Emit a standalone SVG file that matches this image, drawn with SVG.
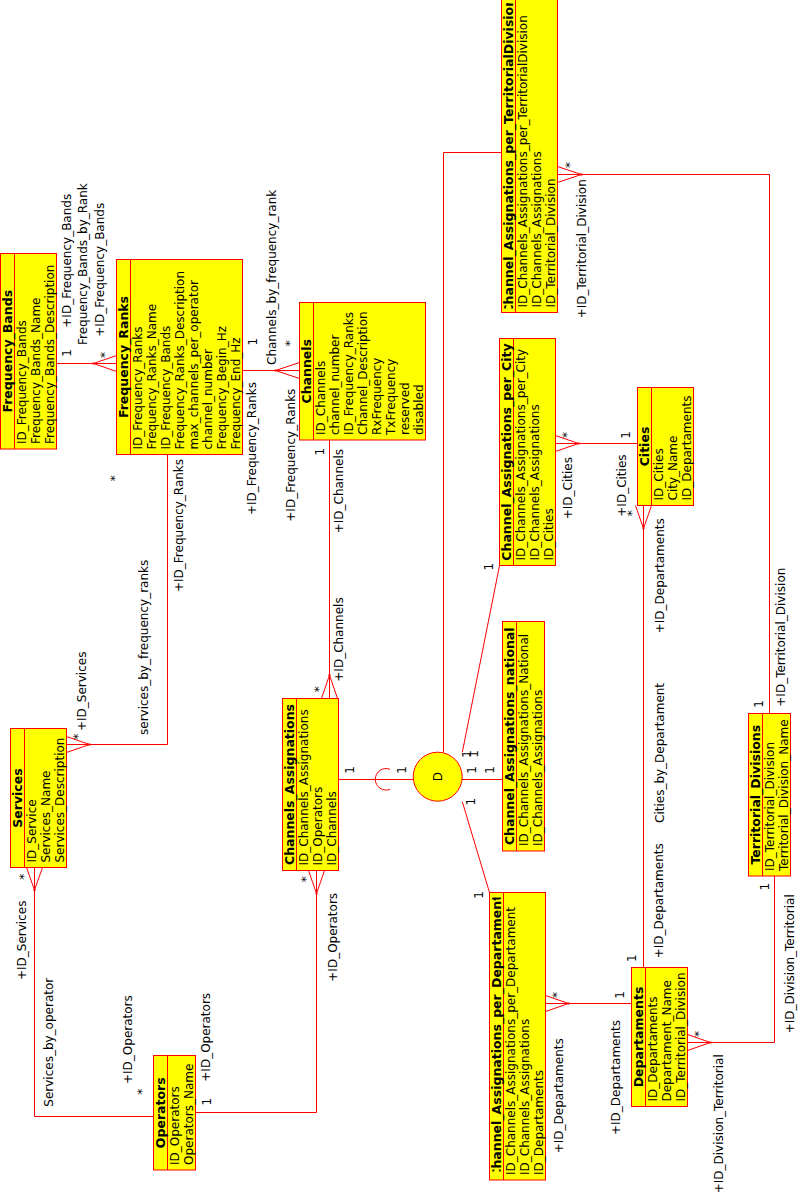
<svg xmlns="http://www.w3.org/2000/svg" width="798" height="1200" viewBox="0 0 798 1200">
<style>
.box{fill:#ffff00;stroke:#ff0000;stroke-width:1}
.sep{stroke:#ff0000;stroke-width:1;fill:none}
.ln{stroke:#ff0000;stroke-width:1;fill:none}
.dot{fill:#ff0000}
text{font-family:"DejaVu Sans","Liberation Sans",sans-serif;font-size:12px;fill:#000}
.tt{font-weight:bold;font-size:12.5px;text-anchor:middle}
.c{text-anchor:middle}
</style>
<defs>
<clipPath id="clipCATD"><rect x="501" y="3" width="57" height="305.5"/></clipPath>
<clipPath id="clipCAD"><rect x="489" y="897.5" width="57" height="274"/></clipPath>
</defs>
<rect x="0" y="0" width="798" height="1200" fill="#ffffff"/>

<g id="connectors">
<path class="ln" d="M56.5,363.5H116.5M93.5,363.5L116.5,355.5M93.5,363.5L116.5,371.5"/>
<rect class="dot" x="92.5" y="362.5" width="2" height="2"/>
<path class="ln" d="M242.5,370.5H299.5M275.5,370.5L299.5,362.5M275.5,370.5L299.5,378.5"/>
<rect class="dot" x="274.5" y="369.5" width="2" height="2"/>
<path class="ln" d="M167.5,454.5V744.5H66.5M89.5,744.5L66.5,736.5M89.5,744.5L66.5,752.5"/>
<rect class="dot" x="88.5" y="743.5" width="2" height="2"/>
<path class="ln" d="M34.5,867.5V1116.5H153.5M34.5,890L26.5,867.5M34.5,890L42.5,867.5"/>
<rect class="dot" x="33.5" y="889" width="2" height="2"/>
<path class="ln" d="M195.5,1112.5H316.5V870.5M316.5,893.5L308.5,870.5M316.5,893.5L324.5,870.5"/>
<rect class="dot" x="315.5" y="892.5" width="2" height="2"/>
<path class="ln" d="M329.5,440V698.5M329.5,675L321.5,698.5M329.5,675L337.5,698.5"/>
<rect class="dot" x="328.5" y="674" width="2" height="2"/>
<path class="ln" d="M338.5,779.5H413.5M390,769.3A10.75,10.75 0 1 0 390,789.3"/>
<path class="ln" d="M443.5,752.5V152.5H501.5"/>
<path class="ln" d="M462.3,752.3L499.5,565.5M462.3,801.7L489.5,892.5M462.3,779.5H502.5"/>
<path class="ln" d="M555.5,443.5H637.5M578.5,443.5L555.5,435.5M578.5,443.5L555.5,451.5"/>
<rect class="dot" x="577.5" y="442.5" width="2" height="2"/>
<path class="ln" d="M643.5,505.5V967.5M643.5,528.5L635.5,505.5M643.5,528.5L651.5,505.5"/>
<rect class="dot" x="642.5" y="527.5" width="2" height="2"/>
<path class="ln" d="M545.5,1003.5H631.5M568.5,1003.5L545.5,995.5M568.5,1003.5L545.5,1011.5"/>
<rect class="dot" x="567.5" y="1002.5" width="2" height="2"/>
<path class="ln" d="M687.5,1042.5H774.5V876M710.5,1042.5L687.5,1034.5M710.5,1042.5L687.5,1050.5"/>
<rect class="dot" x="709.5" y="1041.5" width="2" height="2"/>
<path class="ln" d="M769.5,713.5V174.5H557.5M581.5,174.5L557.5,166.5M581.5,174.5L557.5,182.5"/>
<rect class="dot" x="580.5" y="173.5" width="2" height="2"/>

<text class="c" transform="translate(71,353) rotate(-90)">1</text>
<text transform="translate(71.3,327.7) rotate(-90)">+ID_Frequency_Bands</text>
<text transform="translate(87.3,345) rotate(-90)">Frequency_Bands_by_Rank</text>
<text transform="translate(104.3,336.7) rotate(-90)">+ID_Frequency_Bands</text>
<text class="c" transform="translate(108.7,355) rotate(-90)">*</text>

<text class="c" transform="translate(257,341.7) rotate(-90)">1</text>
<text transform="translate(276,365) rotate(-90)">Channels_by_frequency_rank</text>
<text class="c" transform="translate(293.7,343.3) rotate(-90)">*</text>
<text transform="translate(256,515) rotate(-90)">+ID_Frequency_Ranks</text>
<text transform="translate(295,521.7) rotate(-90)">+ID_Frequency_Ranks</text>

<text class="c" transform="translate(118.7,478.3) rotate(-90)">*</text>
<text transform="translate(182.6,592) rotate(-90)">+ID_Frequency_Ranks</text>
<text transform="translate(147.6,735) rotate(-90)">services_by_frequency_ranks</text>
<text transform="translate(86,731) rotate(-90)">+ID_Services</text>
<text class="c" transform="translate(82,736.7) rotate(-90)">*</text>

<text class="c" transform="translate(27.7,876.7) rotate(-90)">*</text>
<text transform="translate(26,980) rotate(-90)">+ID_Services</text>
<text transform="translate(53.3,1106.7) rotate(-90)">Services_by_operator</text>
<text transform="translate(132,1084) rotate(-90)">+ID_Operators</text>
<text class="c" transform="translate(146.3,1091.7) rotate(-90)">*</text>

<text class="c" transform="translate(211,1101.7) rotate(-90)">1</text>
<text transform="translate(210,1081.7) rotate(-90)">+ID_Operators</text>
<text transform="translate(336.6,981.7) rotate(-90)">+ID_Operators</text>
<text class="c" transform="translate(309.7,879.3) rotate(-90)">*</text>

<text class="c" transform="translate(323.6,451.7) rotate(-90)">1</text>
<text transform="translate(342.6,533.3) rotate(-90)">+ID_Channels</text>
<text transform="translate(342.6,681.7) rotate(-90)">+ID_Channels</text>
<text class="c" transform="translate(323,689.3) rotate(-90)">*</text>

<text class="c" transform="translate(354.3,770) rotate(-90)">1</text>
<text class="c" transform="translate(406,770) rotate(-90)">1</text>

<text class="c" transform="translate(471.3,754) rotate(-90)">1</text>
<text class="c" transform="translate(477.8,754) rotate(-90)">1</text>
<text class="c" transform="translate(476,770) rotate(-90)">1</text>
<text class="c" transform="translate(494.3,770) rotate(-90)">1</text>
<text class="c" transform="translate(475,801.7) rotate(-90)">1</text>
<text class="c" transform="translate(492.6,566.7) rotate(-90)">1</text>
<text class="c" transform="translate(483.3,895) rotate(-90)">1</text>

<text class="c" transform="translate(570.7,435) rotate(-90)">*</text>
<text transform="translate(572,519.3) rotate(-90)">+ID_Cities</text>
<text class="c" transform="translate(630,435) rotate(-90)">1</text>

<text transform="translate(626,516.7) rotate(-90)">+ID_Cities</text>
<text class="c" transform="translate(636.3,513.3) rotate(-90)">*</text>
<text transform="translate(664.3,633.3) rotate(-90)">+ID_Departaments</text>
<text transform="translate(664.3,823) rotate(-90)">Cities_by_Departament</text>
<text transform="translate(662.6,958.3) rotate(-90)">+ID_Departaments</text>
<text class="c" transform="translate(636,958.3) rotate(-90)">1</text>

<text class="c" transform="translate(561.3,995) rotate(-90)">*</text>
<text transform="translate(562.6,1153.3) rotate(-90)">+ID_Departaments</text>
<text class="c" transform="translate(624.3,995) rotate(-90)">1</text>
<text transform="translate(620,1135) rotate(-90)">+ID_Departaments</text>

<text class="c" transform="translate(703,1034) rotate(-90)">*</text>
<text transform="translate(722.6,1193.3) rotate(-90)">+ID_Division_Territorial</text>
<text transform="translate(794.3,1033.3) rotate(-90)">+ID_Division_Territorial</text>
<text class="c" transform="translate(769.3,886.7) rotate(-90)">1</text>

<text class="c" transform="translate(573.7,165) rotate(-90)">*</text>
<text transform="translate(586,318.3) rotate(-90)">+ID_Territorial_Division</text>
<text class="c" transform="translate(763.3,704) rotate(-90)">1</text>
<text transform="translate(785.3,706.7) rotate(-90)">+ID_Territorial_Division</text>
</g>

<g id="Frequency_Bands">
<rect class="box" x="0.5" y="253.5" width="56" height="195.5"/>
<line class="sep" x1="14.5" y1="253.5" x2="14.5" y2="449"/>
<text class="tt" transform="translate(11.5,351.25) rotate(-90)">Frequency_Bands</text>
<text transform="translate(25.5,444) rotate(-90)">ID_Frequency_Bands</text>
<text transform="translate(39.5,444) rotate(-90)">Frequency_Bands_Name</text>
<text transform="translate(53.5,444) rotate(-90)">Frequency_Bands_Description</text>
</g>

<g id="Frequency_Ranks">
<rect class="box" x="116.5" y="259.5" width="126" height="195"/>
<line class="sep" x1="130.5" y1="259.5" x2="130.5" y2="454.5"/>
<text class="tt" transform="translate(127.5,357) rotate(-90)">Frequency_Ranks</text>
<text transform="translate(141.5,449.5) rotate(-90)">ID_Frequency_Ranks</text>
<text transform="translate(155.5,449.5) rotate(-90)">Frequency_Ranks_Name</text>
<text transform="translate(169.5,449.5) rotate(-90)">ID_Frequency_Bands</text>
<text transform="translate(183.5,449.5) rotate(-90)">Frequency_Ranks_Description</text>
<text transform="translate(197.5,449.5) rotate(-90)">max_channels_per_operator</text>
<text transform="translate(211.5,449.5) rotate(-90)">channel_number</text>
<text transform="translate(225.5,449.5) rotate(-90)">Frequency_Begin_Hz</text>
<text transform="translate(239.5,449.5) rotate(-90)">Frequency_End_Hz</text>
</g>

<g id="Channels">
<rect class="box" x="299.5" y="302.5" width="126" height="137.5"/>
<line class="sep" x1="313.5" y1="302.5" x2="313.5" y2="440"/>
<text class="tt" transform="translate(310.5,371.25) rotate(-90)">Channels</text>
<text transform="translate(324.5,435) rotate(-90)">ID_Channels</text>
<text transform="translate(338.5,435) rotate(-90)">channel_number</text>
<text transform="translate(352.5,435) rotate(-90)">ID_Frequency_Ranks</text>
<text transform="translate(366.5,435) rotate(-90)">Channel_Description</text>
<text transform="translate(380.5,435) rotate(-90)">RxFrequency</text>
<text transform="translate(394.5,435) rotate(-90)">TxFrequency</text>
<text transform="translate(408.5,435) rotate(-90)">reserved</text>
<text transform="translate(422.5,435) rotate(-90)">disabled</text>
</g>

<g id="Services">
<rect class="box" x="10.5" y="728.5" width="56" height="139"/>
<line class="sep" x1="24.5" y1="728.5" x2="24.5" y2="867.5"/>
<text class="tt" transform="translate(21.5,798) rotate(-90)">Services</text>
<text transform="translate(35.5,862.5) rotate(-90)">ID_Service</text>
<text transform="translate(49.5,862.5) rotate(-90)">Services_Name</text>
<text transform="translate(63.5,862.5) rotate(-90)">Services_Description</text>
</g>

<g id="Channels_Assignations">
<rect class="box" x="282.5" y="698.5" width="56" height="172"/>
<line class="sep" x1="296.5" y1="698.5" x2="296.5" y2="870.5"/>
<text class="tt" transform="translate(293.5,784.5) rotate(-90)">Channels_Assignations</text>
<text transform="translate(307.5,865.5) rotate(-90)">ID_Channels_Assignations</text>
<text transform="translate(321.5,865.5) rotate(-90)">ID_Operators</text>
<text transform="translate(335.5,865.5) rotate(-90)">ID_Channels</text>
</g>

<g id="Operators">
<rect class="box" x="153.5" y="1055.5" width="42" height="114.5"/>
<line class="sep" x1="167.5" y1="1055.5" x2="167.5" y2="1170"/>
<text class="tt" transform="translate(164.5,1112.75) rotate(-90)">Operators</text>
<text transform="translate(178.5,1165) rotate(-90)">ID_Operators</text>
<text transform="translate(192.5,1165) rotate(-90)">Operators_Name</text>
</g>

<g id="Channel_Assignations_per_TerritorialDivision">
<rect class="box" x="501.5" y="-1" width="56" height="313.5"/>
<line class="sep" x1="515.5" y1="-1" x2="515.5" y2="312.5"/>
<g clip-path="url(#clipCATD)"><text class="tt" transform="translate(512.5,155.75) rotate(-90)">Channel_Assignations_per_TerritorialDivision</text></g>
<text transform="translate(526.5,307.5) rotate(-90)">ID_Channels_Assignations_per_TerritorialDivision</text>
<text transform="translate(540.5,307.5) rotate(-90)">ID_Channels_Assignations</text>
<text transform="translate(554.5,307.5) rotate(-90)">ID_Territorial_Division</text>
</g>

<g id="Channel_Assignations_per_City">
<rect class="box" x="499.5" y="338.5" width="56" height="227"/>
<line class="sep" x1="513.5" y1="338.5" x2="513.5" y2="565.5"/>
<text class="tt" transform="translate(510.5,452) rotate(-90)">Channel_Assignations_per_City</text>
<text transform="translate(524.5,560.5) rotate(-90)">ID_Channels_Assignations_per_City</text>
<text transform="translate(538.5,560.5) rotate(-90)">ID_Channels_Assignations</text>
<text transform="translate(552.5,560.5) rotate(-90)">ID_Cities</text>
</g>

<g id="Cities">
<rect class="box" x="637.5" y="387.5" width="56" height="118"/>
<line class="sep" x1="651.5" y1="387.5" x2="651.5" y2="505.5"/>
<text class="tt" transform="translate(648.5,446.5) rotate(-90)">Cities</text>
<text transform="translate(662.5,500.5) rotate(-90)">ID_Cities</text>
<text transform="translate(676.5,500.5) rotate(-90)">City_Name</text>
<text transform="translate(690.5,500.5) rotate(-90)">ID_Departaments</text>
</g>

<g id="Channel_Assignations_national">
<rect class="box" x="502.5" y="621.5" width="42" height="229.5"/>
<line class="sep" x1="516.5" y1="621.5" x2="516.5" y2="851"/>
<text class="tt" transform="translate(513.5,736.25) rotate(-90)">Channel_Assignations_national</text>
<text transform="translate(527.5,846) rotate(-90)">ID_Channels_Assignations_National</text>
<text transform="translate(541.5,846) rotate(-90)">ID_Channels_Assignations</text>
</g>

<g id="D">
<circle cx="437.7" cy="776.7" r="24.5" fill="#ffff00" stroke="#ff0000" stroke-width="1"/>
<text class="c" transform="translate(442,776.7) rotate(-90)">D</text>
</g>

<g id="Territorial_Divisions">
<rect class="box" x="748.5" y="713.5" width="42" height="162.5"/>
<line class="sep" x1="762.5" y1="713.5" x2="762.5" y2="876"/>
<text class="tt" transform="translate(759.5,794.75) rotate(-90)">Territorial_Divisions</text>
<text transform="translate(773.5,871) rotate(-90)">ID_Territorial_Division</text>
<text transform="translate(787.5,871) rotate(-90)">Territorial_Division_Name</text>
</g>

<g id="Channel_Assignations_per_Departament">
<rect class="box" x="489.5" y="892.5" width="56" height="287.5"/>
<line class="sep" x1="503.5" y1="892.5" x2="503.5" y2="1180"/>
<g clip-path="url(#clipCAD)"><text class="tt" transform="translate(500.5,1036.25) rotate(-90)">Channel_Assignations_per_Departament</text></g>
<text transform="translate(514.5,1175) rotate(-90)">ID_Channels_Assignations_per_Departament</text>
<text transform="translate(528.5,1175) rotate(-90)">ID_Channels_Assignations</text>
<text transform="translate(542.5,1175) rotate(-90)">ID_Departaments</text>
</g>

<g id="Departaments">
<rect class="box" x="631.5" y="967.5" width="56" height="139"/>
<line class="sep" x1="645.5" y1="967.5" x2="645.5" y2="1106.5"/>
<text class="tt" transform="translate(642.5,1037) rotate(-90)">Departaments</text>
<text transform="translate(656.5,1101.5) rotate(-90)">ID_Departaments</text>
<text transform="translate(670.5,1101.5) rotate(-90)">Departament_Name</text>
<text transform="translate(684.5,1101.5) rotate(-90)">ID_Territorial_Division</text>
</g>
</svg>
